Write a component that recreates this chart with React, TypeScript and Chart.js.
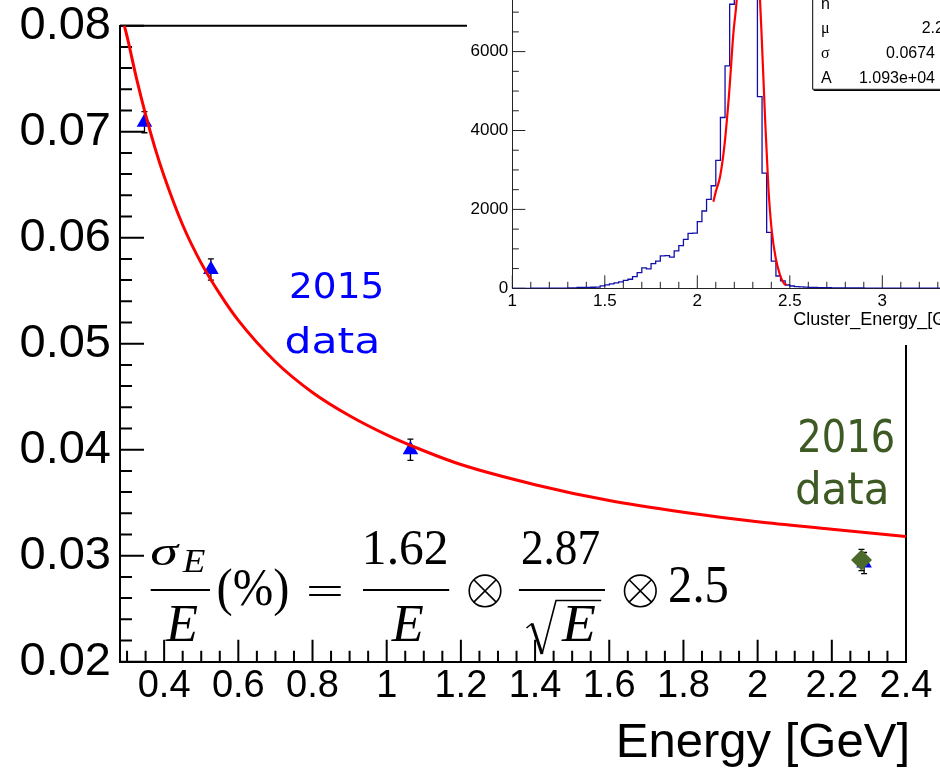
import React, { useEffect, useRef } from 'react';
import { Chart, registerables } from 'chart.js';

Chart.register(...registerables);

// ---------------- main plot data ----------------
const fitEnergy = [0.285, 0.3, 0.325, 0.35, 0.375, 0.4, 0.45, 0.5, 0.55, 0.6, 0.7, 0.8, 0.9, 1.0, 1.1, 1.2, 1.4, 1.6, 1.8, 2.0, 2.2, 2.4];
const fitResolution = [0.081, 0.079, 0.0751, 0.0716, 0.0685, 0.0658, 0.0612, 0.0576, 0.0547, 0.0522, 0.0483, 0.0454, 0.0432, 0.0414, 0.0399, 0.0386, 0.0367, 0.0352, 0.0341, 0.0332, 0.0325, 0.0318];

const energy2015 = [0.347, 0.526, 1.064, 2.287];
const resolution2015 = [0.0709, 0.057, 0.04, 0.0293];
const error2015 = [0.001, 0.001, 0.001, 0.001];

const energy2016 = [2.28];
const resolution2016 = [0.0296];
const error2016 = [0.001];

const xTickValues = [0.4, 0.6, 0.8, 1.0, 1.2, 1.4, 1.6, 1.8, 2.0, 2.2, 2.4];
const yTickValues = [0.02, 0.03, 0.04, 0.05, 0.06, 0.07, 0.08];

// ---------------- inset data ----------------
const histStart = 1.0;
const histBinWidth = 0.025;
const histCounts = [
  0, 0, 0, 0, 0, 1, 1, 1, 2, 2, 3, 4, 6, 8, 12, 20, 22, 24, 26, 32,
  60, 85, 110, 140, 165, 200, 230, 295, 395, 520, 490, 625, 690, 820, 830, 790, 950, 1080, 1240, 1390,
  1400, 1690, 1960, 2256, 2600, 3245, 4330, 5640, 7200, 8900, 10400, 10900, 10100, 7900, 4860, 2920, 1420, 690, 312, 190,
  84, 58, 42, 34, 28, 24, 20, 18, 16, 14, 12, 11, 10, 9, 8, 7, 7, 6, 6, 5,
  5, 4, 4, 4, 3, 3, 3, 3, 2, 2, 2, 2, 2, 2,
];
const cbFitX = [2.087, 2.1, 2.123, 2.146, 2.172, 2.195, 2.213, 2.24, 2.27, 2.3, 2.339, 2.348, 2.366, 2.384, 2.402, 2.424, 2.447, 2.468, 2.483];
const cbFitY = [2196, 2450, 2829, 3590, 4943, 6464, 7308, 9500, 10930, 9900, 7308, 6378, 4350, 2575, 1478, 760, 337, 127, 84];
const insetXTicks = [1, 1.5, 2, 2.5, 3];
const insetYTicks = [0, 2000, 4000, 6000];
const statNames = ['n', 'μ', 'σ', 'A'];
const statValues = ['', '2.', '0.0674', '1.093e+04'];

const SANS = '"Liberation Sans", Arial, sans-serif';
const SERIF = '"Liberation Serif", "Times New Roman", serif';
const COMIC = '"DejaVu Sans", sans-serif';

const fmt = (v: number) => String(parseFloat(Number(v).toFixed(3)));

function range(min: number, max: number, step: number) {
  const out: number[] = [];
  for (let k = Math.ceil(min / step - 1e-9); k * step <= max + 1e-9; k++) out.push(+(k * step).toFixed(6));
  return out;
}
const isIn = (v: number, arr: number[]) => arr.some((a) => Math.abs(a - v) < 1e-6);

function fitText(ctx: CanvasRenderingContext2D, text: string, font: string, x0: number, x1: number, y0: number, y1: number, color: string) {
  ctx.save();
  ctx.font = font;
  ctx.textAlign = 'left';
  ctx.textBaseline = 'alphabetic';
  const m = ctx.measureText(text);
  const w = m.actualBoundingBoxLeft + m.actualBoundingBoxRight;
  const h = m.actualBoundingBoxAscent + m.actualBoundingBoxDescent;
  ctx.translate(x0, y0);
  ctx.scale((x1 - x0) / w, (y1 - y0) / h);
  ctx.fillStyle = color;
  ctx.fillText(text, m.actualBoundingBoxLeft, m.actualBoundingBoxAscent);
  ctx.restore();
}

function otimes(ctx: CanvasRenderingContext2D, cx: number, cy: number, r: number) {
  ctx.save();
  ctx.strokeStyle = '#000';
  ctx.lineWidth = 1.6;
  ctx.beginPath();
  ctx.arc(cx, cy, r, 0, Math.PI * 2);
  const d = r * Math.SQRT1_2;
  ctx.moveTo(cx - d, cy - d);
  ctx.lineTo(cx + d, cy + d);
  ctx.moveTo(cx + d, cy - d);
  ctx.lineTo(cx - d, cy + d);
  ctx.stroke();
  ctx.restore();
}

const mainDecor = {
  id: 'mainDecor',
  beforeDatasetsDraw(chart: any) {
    const { ctx, chartArea: a, scales } = chart;
    const xs = scales.x;
    const ys = scales.y;
    ctx.save();
    ctx.strokeStyle = '#000';
    ctx.lineWidth = 2;
    ctx.beginPath();
    ctx.moveTo(a.left, a.top);
    ctx.lineTo(a.right, a.top);
    ctx.lineTo(a.right, a.bottom);
    ctx.stroke();
    // ticks inside
    ctx.lineWidth = 2;
    ctx.beginPath();
    range(0.02, 0.08, 0.002).forEach((v) => {
      const p = ys.getPixelForValue(v);
      const len = isIn(v, yTickValues) ? 24 : 12;
      ctx.moveTo(a.left, p);
      ctx.lineTo(a.left + len, p);
    });
    range(xs.min, xs.max, 0.05).forEach((v) => {
      const p = xs.getPixelForValue(v);
      const len = isIn(v, xTickValues) ? 22 : 11;
      ctx.moveTo(p, a.bottom);
      ctx.lineTo(p, a.bottom - len);
    });
    ctx.stroke();
    // error bars
    ctx.lineWidth = 1.3;
    const bars = (E: number[], V: number[], err: number[]) => {
      E.forEach((e, i) => {
        const px = xs.getPixelForValue(e);
        const t = ys.getPixelForValue(V[i] + err[i]);
        const b = ys.getPixelForValue(V[i] - err[i]);
        ctx.beginPath();
        ctx.moveTo(px, t);
        ctx.lineTo(px, b);
        ctx.moveTo(px - 3, t);
        ctx.lineTo(px + 3, t);
        ctx.moveTo(px - 3, b);
        ctx.lineTo(px + 3, b);
        ctx.stroke();
      });
    };
    bars(energy2015, resolution2015, error2015);
    bars(energy2016, resolution2016, error2016);
    ctx.restore();
  },
  afterDraw(chart: any) {
    const { ctx } = chart;
    ctx.save();
    // axis title
    ctx.font = `49px ${SANS}`;
    ctx.fillStyle = '#000';
    ctx.textAlign = 'right';
    ctx.textBaseline = 'alphabetic';
    ctx.fillText('Energy [GeV]', 910, 757);
    ctx.restore();

    // annotations
    fitText(ctx, '2015', `100px ${COMIC}`, 291.7, 381, 271.7, 298.3, '#0000ff');
    fitText(ctx, 'data', `100px ${COMIC}`, 286.7, 376.7, 326.7, 354, '#0000ff');
    fitText(ctx, '2016', `100px ${COMIC}`, 800, 893, 418, 452, '#3d5a24');
    fitText(ctx, 'data', `100px ${COMIC}`, 797, 886, 470, 505, '#3d5a24');

    // formula
    const k = '#000';
    fitText(ctx, 'σ', `italic 100px ${SERIF}`, 151.5, 180.2, 544, 565, k);
    fitText(ctx, 'E', `italic 100px ${SERIF}`, 182, 205, 549.8, 572.7, k);
    fitText(ctx, 'E', `italic 100px ${SERIF}`, 164.9, 197.4, 607, 641.6, k);
    fitText(ctx, '(%)', `100px ${SERIF}`, 218.5, 287.3, 569, 616.7, k);
    fitText(ctx, '=', `100px ${SERIF}`, 308.4, 341, 586, 595.7, k);
    fitText(ctx, '1.62', `100px ${SERIF}`, 365.8, 446.2, 530.6, 565, k);
    fitText(ctx, 'E', `italic 100px ${SERIF}`, 390.7, 423.2, 607, 641.6, k);
    otimes(ctx, 485, 590.9, 15.8);
    fitText(ctx, '2.87', `100px ${SERIF}`, 522.7, 599.2, 530.6, 565, k);
    fitText(ctx, 'E', `italic 100px ${SERIF}`, 561, 595.4, 607, 641.6, k);
    otimes(ctx, 640.3, 590.9, 15.8);
    fitText(ctx, '2.5', `100px ${SERIF}`, 670, 727.4, 567, 603.3, k);
    ctx.save();
    ctx.strokeStyle = '#000';
    ctx.lineWidth = 2;
    ctx.beginPath();
    ctx.moveTo(150.7, 590);
    ctx.lineTo(210, 590);
    ctx.moveTo(363, 590);
    ctx.lineTo(449.2, 590);
    ctx.moveTo(518.9, 590);
    ctx.lineTo(605, 590);
    ctx.stroke();
    // radical
    ctx.lineWidth = 1.6;
    ctx.lineJoin = 'miter';
    ctx.beginPath();
    ctx.moveTo(526.5, 628);
    ctx.lineTo(532, 623.5);
    ctx.stroke();
    ctx.lineWidth = 3;
    ctx.beginPath();
    ctx.moveTo(532, 623.5);
    ctx.lineTo(542, 654);
    ctx.stroke();
    ctx.lineWidth = 1.6;
    ctx.beginPath();
    ctx.moveTo(542, 654);
    ctx.lineTo(556, 600.5);
    ctx.lineTo(601.2, 600.5);
    ctx.stroke();
    ctx.restore();
  },
};

const insetDecor = {
  id: 'insetDecor',
  beforeDatasetsDraw(chart: any) {
    const { ctx, chartArea: a, scales } = chart;
    const xs = scales.x;
    const ys = scales.y;
    ctx.save();
    ctx.strokeStyle = '#222';
    ctx.lineWidth = 1;
    ctx.beginPath();
    range(0, ys.max, 500).forEach((v) => {
      const p = ys.getPixelForValue(v);
      const len = isIn(v, insetYTicks) ? 13 : 6.5;
      ctx.moveTo(a.left, p);
      ctx.lineTo(a.left + len, p);
    });
    range(xs.min, xs.max, 0.1).forEach((v) => {
      const p = xs.getPixelForValue(v);
      const len = isIn(v, insetXTicks) ? 13 : 6.5;
      ctx.moveTo(p, a.bottom);
      ctx.lineTo(p, a.bottom - len);
    });
    ctx.stroke();
    ctx.restore();
  },
  afterDraw(chart: any) {
    const { ctx } = chart;
    const ox = 467;
    ctx.save();
    // axis title
    ctx.font = `18px ${SANS}`;
    ctx.fillStyle = '#000';
    ctx.textAlign = 'left';
    ctx.textBaseline = 'alphabetic';
    ctx.fillText('Cluster_Energy_[GeV]', 793.3 - ox, 325);
    // stats box
    const bx = 812.7 - ox;
    const by = 89.3;
    ctx.fillStyle = '#fff';
    ctx.fillRect(bx, -2, 500, by + 2);
    ctx.strokeStyle = '#000';
    ctx.lineWidth = 1;
    ctx.beginPath();
    ctx.moveTo(bx, -2);
    ctx.lineTo(bx, by);
    ctx.lineTo(bx + 500, by);
    ctx.stroke();
    ctx.beginPath();
    ctx.moveTo(bx + 1, by + 1.2);
    ctx.lineTo(bx + 500, by + 1.2);
    ctx.stroke();
    const baselines = [9, 33, 57.5, 82.5];
    ctx.fillStyle = '#000';
    statNames.forEach((n, i) => {
      ctx.textAlign = 'left';
      ctx.font = n === 'μ' || n === 'σ' ? `16px ${SERIF}` : `16px ${SANS}`;
      ctx.fillText(n, 821 - ox, baselines[i]);
      if (statValues[i]) {
        ctx.font = `16px ${SANS}`;
        ctx.textAlign = 'right';
        ctx.fillText(statValues[i], 935 - ox, baselines[i]);
        ctx.textAlign = 'left';
        ctx.fillText(i === 1 ? '27 ± 0.00' : ' ± 0.0', 935 - ox, baselines[i]);
      }
    });
    ctx.restore();
  },
};

export default function App() {
  const mainRef = useRef<HTMLCanvasElement>(null);
  const insetRef = useRef<HTMLCanvasElement>(null);

  useEffect(() => {
    const main = new Chart(mainRef.current as HTMLCanvasElement, {
      type: 'scatter',
      data: {
        datasets: [
          {
            type: 'line',
            label: 'fit',
            data: fitEnergy.map((e, i) => ({ x: e, y: fitResolution[i] })),
            borderColor: '#ff0000',
            borderWidth: 3,
            pointRadius: 0,
            fill: false,
            cubicInterpolationMode: 'monotone',
          } as any,
          {
            label: '2016 data',
            data: energy2016.map((e, i) => ({ x: e, y: resolution2016[i] })),
            pointStyle: 'rectRot',
            pointRadius: 10.5,
            backgroundColor: '#4a6a2c',
            borderColor: '#4a6a2c',
            borderWidth: 0,
          },
          {
            label: '2015 data',
            data: energy2015.map((e, i) => ({ x: e, y: resolution2015[i] })),
            pointStyle: 'triangle',
            pointRadius: 9,
            backgroundColor: '#0000ff',
            borderColor: '#0000ff',
            borderWidth: 0,
          },
        ],
      },
      options: {
        responsive: false,
        animation: false,
        devicePixelRatio: 1,
        events: [],
        layout: { padding: { left: 0, right: 34, top: 25.7, bottom: 0 } },
        plugins: { legend: { display: false }, tooltip: { enabled: false } },
        scales: {
          x: {
            type: 'linear',
            min: 0.281,
            max: 2.4,
            afterBuildTicks: (s: any) => {
              s.ticks = xTickValues.map((v) => ({ value: v }));
            },
            afterFit: (s: any) => {
              s.height = 106.3;
              s.paddingLeft = 0;
              s.paddingRight = 0;
            },
            grid: { display: false, drawTicks: false },
            border: { display: true, color: '#000', width: 2 },
            ticks: {
              font: { family: SANS, size: 38 },
              color: '#000',
              padding: 2.5,
              autoSkip: false,
              maxRotation: 0,
              callback: (v: any) => fmt(v),
            },
          },
          y: {
            type: 'linear',
            min: 0.02,
            max: 0.08,
            afterBuildTicks: (s: any) => {
              s.ticks = yTickValues.map((v) => ({ value: v }));
            },
            afterFit: (s: any) => {
              s.width = 120;
              s.paddingTop = 0;
              s.paddingBottom = 0;
            },
            grid: { display: false, drawTicks: false },
            border: { display: true, color: '#000', width: 2 },
            ticks: {
              font: { family: SANS, size: 47 },
              color: '#000',
              padding: 9,
              autoSkip: false,
              callback: (v: any) => Number(v).toFixed(2),
            },
          },
        },
      } as any,
      plugins: [mainDecor],
    });

    const histPoints = histCounts.map((c, i) => ({ x: histStart + i * histBinWidth, y: c }));
    histPoints.push({ x: histStart + histCounts.length * histBinWidth, y: histCounts[histCounts.length - 1] });

    const inset = new Chart(insetRef.current as HTMLCanvasElement, {
      type: 'line',
      data: {
        datasets: [
          {
            label: 'fit',
            data: cbFitX.map((x, i) => ({ x, y: cbFitY[i] })),
            borderColor: '#ff0000',
            borderWidth: 2.2,
            pointRadius: 0,
            fill: false,
            cubicInterpolationMode: 'monotone',
          },
          {
            label: 'Cluster_Energy',
            data: histPoints,
            stepped: 'after',
            borderColor: '#1010a8',
            borderWidth: 1.3,
            pointRadius: 0,
            fill: false,
          },
        ],
      },
      options: {
        responsive: false,
        animation: false,
        devicePixelRatio: 1,
        events: [],
        layout: { padding: 0 },
        plugins: { legend: { display: false }, tooltip: { enabled: false } },
        scales: {
          x: {
            type: 'linear',
            min: 1,
            max: 1 + (940 - 512.3) / 185,
            afterBuildTicks: (s: any) => {
              s.ticks = insetXTicks.map((v) => ({ value: v }));
            },
            afterFit: (s: any) => {
              s.height = 345 - 288.3;
              s.paddingLeft = 0;
              s.paddingRight = 0;
            },
            grid: { display: false, drawTicks: false },
            border: { display: true, color: '#222', width: 1 },
            ticks: {
              font: { family: SANS, size: 17 },
              color: '#000',
              padding: 2.5,
              autoSkip: false,
              maxRotation: 0,
              callback: (v: any) => fmt(v),
            },
          },
          y: {
            type: 'linear',
            min: 0,
            max: 7308,
            afterBuildTicks: (s: any) => {
              s.ticks = insetYTicks.map((v) => ({ value: v }));
            },
            afterFit: (s: any) => {
              s.width = 512.3 - 467;
              s.paddingTop = 0;
              s.paddingBottom = 0;
            },
            grid: { display: false, drawTicks: false },
            border: { display: true, color: '#222', width: 1 },
            ticks: {
              font: { family: SANS, size: 17 },
              color: '#000',
              padding: 4,
              autoSkip: false,
              callback: (v: any) => String(v),
            },
          },
        },
      } as any,
      plugins: [insetDecor],
    });

    return () => {
      main.destroy();
      inset.destroy();
    };
  }, []);

  return (
    <div style={{ position: 'fixed', left: 0, top: 0, width: 940, height: 768, overflow: 'hidden', background: '#fff' }}>
      <canvas ref={mainRef} width={940} height={768} style={{ position: 'absolute', left: 0, top: 0, width: 940, height: 768 }} />
      <canvas ref={insetRef} width={473} height={345} style={{ position: 'absolute', left: 467, top: 0, width: 473, height: 345, background: '#fff' }} />
    </div>
  );
}
